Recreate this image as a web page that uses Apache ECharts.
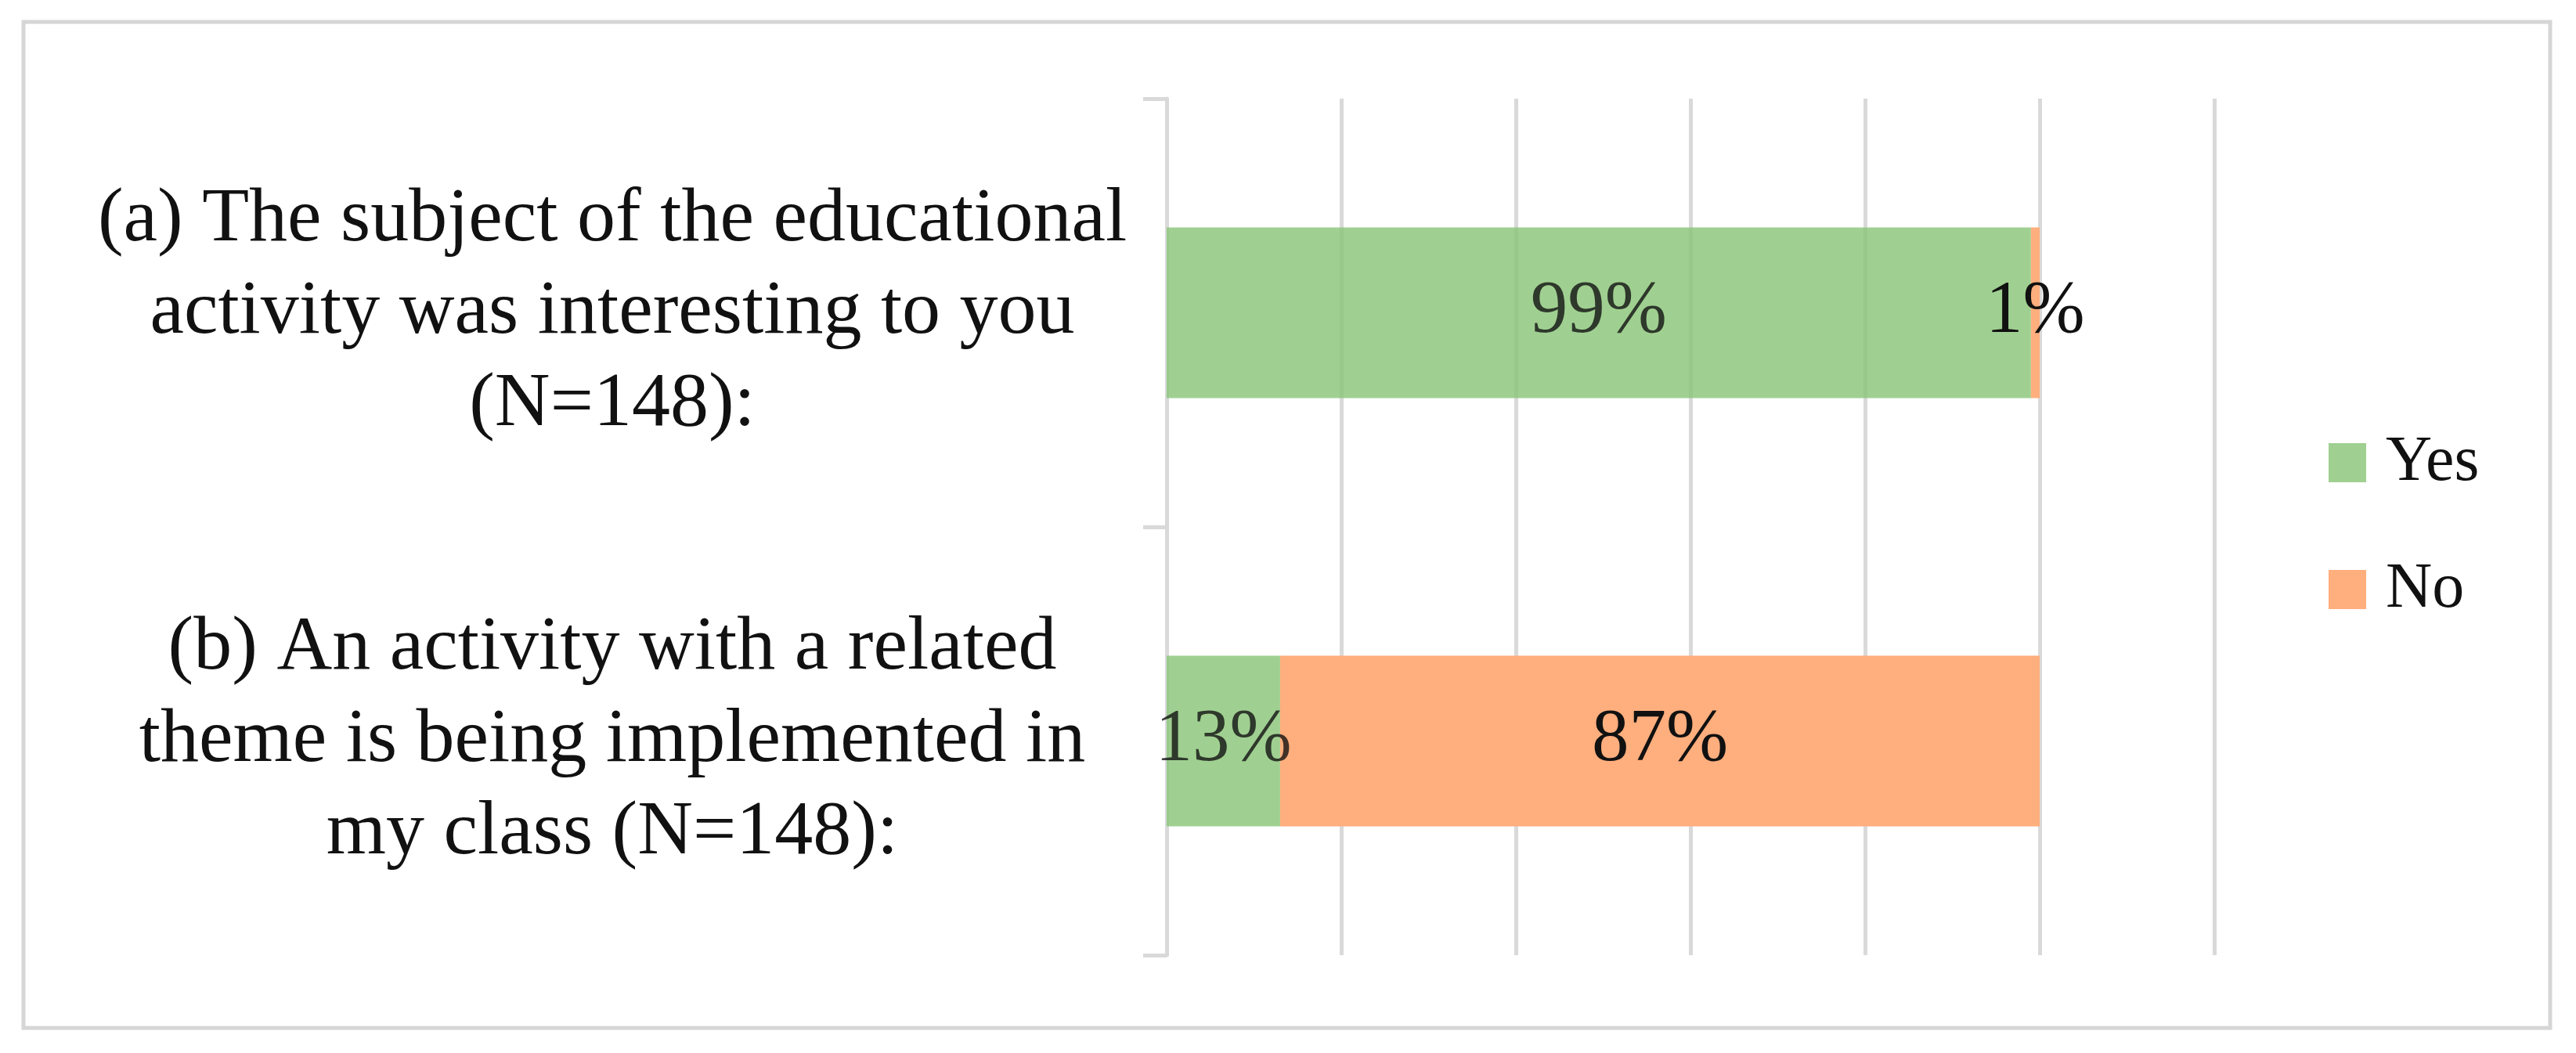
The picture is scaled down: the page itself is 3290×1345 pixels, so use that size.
<!DOCTYPE html>
<html>
<head>
<meta charset="utf-8">
<script src="https://cdn.jsdelivr.net/npm/echarts@6/dist/echarts.min.js"></script>
<style>
  html, body { margin: 0; padding: 0; background: #ffffff; }
  #chart { width: 3290px; height: 1345px; }
</style>
</head>
<body>
<div id="chart"></div>
<script>
const categories = [
  "(a) The subject of the educational\nactivity was interesting to you\n(N=148):",
  "(b) An activity with a related\ntheme is being implemented in\nmy class (N=148):"
];
const seriesNames = ["Yes", "No"];
const yesValues = [99, 13];
const noValues = [1, 87];
const axisMax = 120;
const axisInterval = 20;

const FONT = "'Liberation Serif', 'DejaVu Serif', serif";
const GRID = "#d9d9d9";

const chart = echarts.init(document.getElementById('chart'), null, { renderer: 'canvas' });

const labelCfg = {
  show: true,
  position: 'inside',
  formatter: '{c}%',
  fontFamily: FONT,
  fontSize: 95,
  color: '#111111'
};

chart.setOption({
  animation: false,
  backgroundColor: '#ffffff',
  graphic: [{
    type: 'rect',
    shape: { x: 30, y: 28, width: 3227, height: 1285 },
    style: { fill: 'none', stroke: '#d6d6d6', lineWidth: 5 },
    z: -10
  }],
  grid: { left: 1490, right: 462, top: 126, bottom: 125, containLabel: false },
  legend: {
    orient: 'vertical',
    left: 2974,
    top: 541,
    padding: 0,
    itemWidth: 48,
    itemHeight: 50,
    itemGap: 62,
    icon: 'rect',
    data: seriesNames,
    textStyle: {
      fontFamily: FONT,
      fontSize: 82,
      lineHeight: 100,
      color: '#111111',
      padding: [0, 0, 0, 20]
    }
  },
  xAxis: {
    type: 'value',
    min: 0,
    max: axisMax,
    interval: axisInterval,
    axisLine: { show: false },
    axisTick: { show: false },
    axisLabel: { show: false },
    splitLine: { show: true, lineStyle: { color: GRID, width: 5 } }
  },
  yAxis: {
    type: 'category',
    data: categories,
    inverse: true,
    axisLine: { show: true, lineStyle: { color: GRID, width: 5 } },
    axisTick: { show: true, length: 30, lineStyle: { color: GRID, width: 5 } },
    axisLabel: {
      show: true,
      align: 'center',
      margin: 708,
      fontFamily: FONT,
      fontSize: 98,
      lineHeight: 118,
      color: '#111111'
    }
  },
  series: [
    {
      name: seriesNames[0],
      type: 'bar',
      stack: 'total',
      barWidth: 218,
      data: yesValues,
      itemStyle: { color: '#88C476', opacity: 0.8 },
      label: labelCfg
    },
    {
      name: seriesNames[1],
      type: 'bar',
      stack: 'total',
      barWidth: 218,
      data: noValues,
      itemStyle: { color: '#FFAE7D' },
      label: labelCfg
    }
  ]
});
</script>
</body>
</html>
